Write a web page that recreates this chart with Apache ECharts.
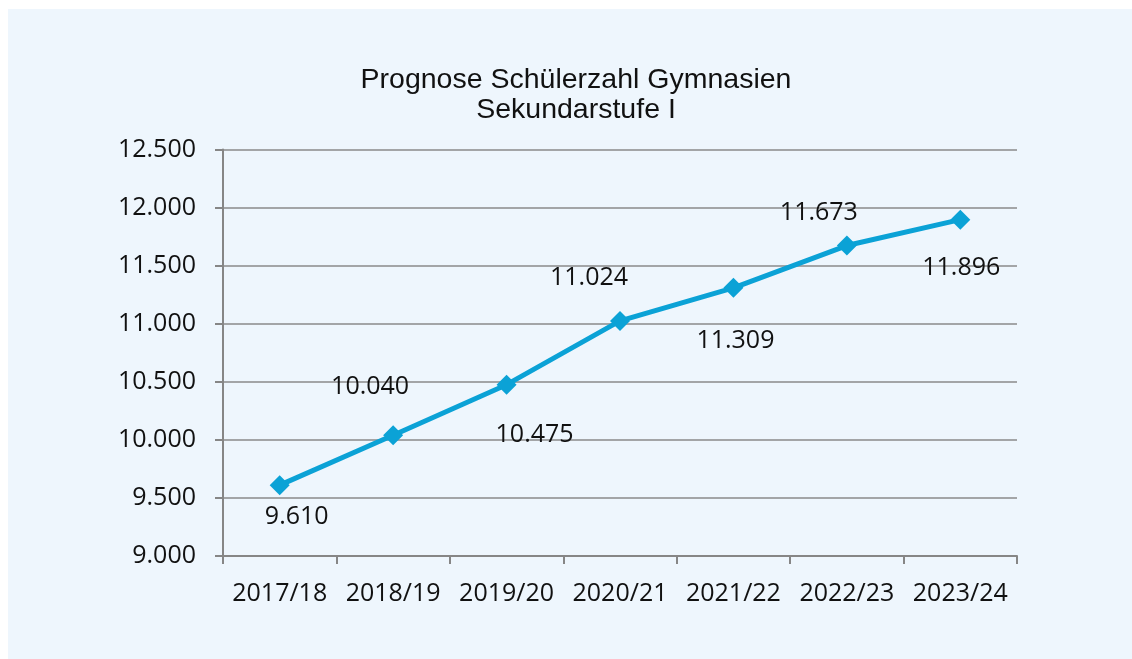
<!DOCTYPE html>
<html lang="de">
<head>
    <meta charset="UTF-8">
    <title>Prognose Schülerzahl Gymnasien</title>
    <script src="https://cdn.jsdelivr.net/npm/echarts@6/dist/echarts.min.js"></script>
    <style>
        html, body { margin: 0; padding: 0; background: #fff; overflow: hidden; }
        #panel { position: absolute; left: 8px; top: 9px; width: 1130px; height: 660px; background: #eef6fd; }
        #chart { position: absolute; left: 0; top: 0; width: 1132px; height: 659px; }
    </style>
</head>
<body>
    <div id="panel"></div>
    <div id="chart"></div>

    <script>
        // Schuljahre und prognostizierte Schülerzahlen
        const years = ['2017/18', '2018/19', '2019/20', '2020/21', '2021/22', '2022/23', '2023/24'];
        const pupils = [9610, 10040, 10475, 11024, 11309, 11673, 11896];
        // Beschriftungsversatz je Punkt (wie im Original abwechselnd unten/oben)
        const labelOffsets = [[17, 32], [-23, -48], [28, 50], [-31, -43], [2, 53], [-28, -33], [1, 48]];

        const fmt = v => v.toLocaleString('de-DE');

        const myChart = echarts.init(document.getElementById('chart'));
        myChart.setOption({
            backgroundColor: 'transparent',
            title: {
                text: 'Prognose Schülerzahl Gymnasien\nSekundarstufe I',
                left: 571,
                textAlign: 'center',
                top: 60,
                textStyle: {
                    fontFamily: 'Liberation Sans',
                    fontWeight: 'normal',
                    fontSize: 28.5,
                    lineHeight: 30,
                    color: '#111'
                }
            },
            grid: { left: 223, right: 115, top: 149.5, bottom: 103 },
            xAxis: {
                type: 'category',
                data: years,
                boundaryGap: true,
                axisLine: { lineStyle: { color: '#868686', width: 2 } },
                axisTick: { show: true, length: 8, interval: 0, lineStyle: { color: '#868686', width: 2 } },
                axisLabel: {
                    interval: 0,
                    margin: 25,
                    fontFamily: 'Open Sans',
                    fontSize: 25,
                    color: '#111'
                }
            },
            yAxis: {
                type: 'value',
                min: 9000,
                max: 12500,
                interval: 500,
                axisLine: { show: true, lineStyle: { color: '#868686', width: 2 } },
                axisTick: { show: true, length: 8, lineStyle: { color: '#868686', width: 2 } },
                splitLine: { lineStyle: { color: '#8a8a8a', width: 1.5 } },
                axisLabel: {
                    margin: 27,
                    formatter: fmt,
                    fontFamily: 'Open Sans',
                    fontSize: 25,
                    color: '#111'
                }
            },
            series: [{
                type: 'line',
                data: pupils.map((v, i) => ({
                    value: v,
                    label: { offset: labelOffsets[i] }
                })),
                symbol: 'diamond',
                symbolSize: 20,
                lineStyle: { color: '#0ba2d6', width: 5 },
                itemStyle: { color: '#0ba2d6' },
                label: {
                    show: true,
                    position: 'inside',
                    formatter: p => fmt(p.value),
                    fontFamily: 'Open Sans',
                    fontSize: 25,
                    color: '#111'
                },
                z: 3
            }]
        });
    </script>
</body>
</html>
